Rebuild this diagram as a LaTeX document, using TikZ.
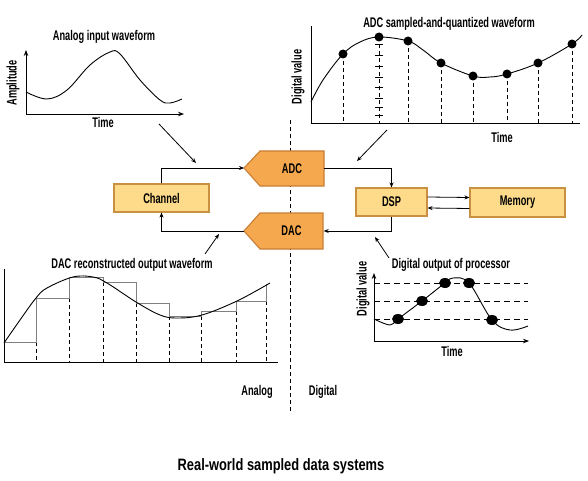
\documentclass[tikz,border=0pt]{standalone}
\usepackage{fontspec}
\setmainfont{Liberation Sans}[FakeStretch=0.66]
\newfontfamily\capfont{Liberation Sans}[FakeStretch=0.78]
\usetikzlibrary{arrows.meta}
\definecolor{boxfill}{HTML}{FDDB8A}
\definecolor{boxdraw}{HTML}{C89040}
\definecolor{convfill}{HTML}{F6A84E}
\definecolor{convdraw}{HTML}{C87E36}
\definecolor{stair}{HTML}{808080}
\begin{document}
\begin{tikzpicture}[x=1pt,y=-1pt,
  lbl/.style={font=\fontsize{14}{16}\selectfont\bfseries, inner sep=0pt},
  box/.style={draw=boxdraw, fill=boxfill, line width=1.1pt, minimum width=95pt, minimum height=28pt, inner sep=0pt, font=\fontsize{14}{16}\selectfont\bfseries},
  conv/.style={draw=convdraw, fill=convfill, line width=1.1pt},
  convtext/.style={inner sep=0pt, minimum width=64pt, minimum height=35pt, font=\fontsize{14}{16}\selectfont\bfseries},
  wire/.style={line width=0.8pt, -{Stealth[length=5pt,width=4pt]}},
  axis/.style={line width=0.9pt},
  axarr/.style={line width=0.9pt, {Stealth[length=6pt,width=4.5pt]}-{Stealth[length=6pt,width=4.5pt]}},
  dsh/.style={dash pattern=on 4pt off 3pt, line width=0.8pt},
  curve/.style={line width=0.9pt},
  dot/.style={circle, fill, inner sep=0pt, minimum size=9pt},
  bigdot/.style={ellipse, fill, inner sep=0pt, minimum width=12pt, minimum height=10pt}
]
\useasboundingbox (0,0) rectangle (588,481);
\fill[white] (0,0) rectangle (588,481);

% divider
\draw[dsh] (290,120) -- (290,412);

% ---------- analog input plot
\draw[axarr] (26,50) -- (26,114) -- (184,114);
\draw[curve] plot[smooth, tension=0.6] coordinates {(26,92) (47,99) (67,90) (90,65) (110,52) (120,54) (140,80) (160,100) (170,103) (182,99)};
\node[lbl] (t1) at (104,37) {Analog input waveform};
\node[lbl, rotate=90] (y1) at (13,83) {Amplitude};
\node[lbl] (x1) at (103,122) {Time};

% ---------- ADC plot
\draw[axis] (311,26) -- (311,123) -- (580,123);
\foreach \x/\y in {343/54,379/37,408/41,441/63,473/76,507/74,538/63,572/44}
  \draw[dsh] (\x,\y) -- (\x,123);
\foreach \y in {44,55,66,77,87,98,107,115}
  \draw[line width=0.8pt] (375,\y) -- (383,\y);
\draw[curve] plot[smooth, tension=0.6] coordinates {(311,102) (323,80) (343,54) (360,42) (379,37) (408,41) (423,50) (441,63) (473,76) (490,77) (507,74) (538,63) (572,44) (582,35)};
\foreach \x/\y in {343/54,379/37,408/41,441/63,473/76,507/74,538/63,572/44}
  \node[dot] at (\x,\y) {};
\node[lbl] (t2) at (449,24) {ADC sampled-and-quantized waveform};
\node[lbl, rotate=90] (y2) at (298,77) {Digital value};
\node[lbl] (x2) at (502,137) {Time};

% ---------- DAC plot
\draw[axis] (4,269) -- (4,362) -- (278,362);
\foreach \x/\y in {36/342,69/298,103/282,136/303,169/316,201/316,236/311,266/301}
  \draw[dsh] (\x,\y) -- (\x,362);
\draw[stair, line width=1pt] (4,342) -- (36,342) -- (36,298) -- (69,298) -- (69,277) -- (103,277) -- (103,282) -- (136,282) -- (136,303) -- (169,303) -- (169,316) -- (201,316) -- (201,311) -- (236,311) -- (236,301) -- (266,301) -- (266,284);
\draw[curve] plot[smooth, tension=0.6] coordinates {(4,343) (20,320) (36,298) (47,288) (73,277) (93,277) (107,283) (136,302) (160,315) (177,318) (202,315) (237,301) (270,283)};
\node[lbl] (t3) at (132,265) {DAC reconstructed output waveform};

% ---------- digital output plot
\foreach \y in {283,301,319}
  \draw[dsh, dash pattern=on 6pt off 4pt] (374,\y) -- (528,\y);
\draw[axarr] (374,273) -- (374,341) -- (529,341);
\draw[curve] plot[smooth, tension=0.6] coordinates {(374,319) (390,325) (398,319) (422,301) (445,283) (453,278) (469,283) (492,320) (510,330) (528,326)};
\foreach \x/\y in {398/319,422/301,445/283,469/283,492/320}
  \fill (\x,\y) ellipse [x radius=6, y radius=5];
\node[lbl] (t4) at (451,265) {Digital output of processor};
\node[lbl, rotate=90] (y4) at (363,289) {Digital value};
\node[lbl] (x4) at (452,351) {Time};

% ---------- blocks
\node[box] (channel) at (161.5,198) {Channel};
\node[box, minimum width=71pt] (dsp) at (391.5,202) {DSP};
\node[box, minimum height=29pt] (memory) at (517.5,202.5) {Memory};
\filldraw[conv] (244,168) -- (260,151) -- (324,151) -- (324,186) -- (260,186) -- cycle;
\node[convtext] (adc) at (292,168.5) {ADC};
\coordinate (adctip) at (244,168);
\filldraw[conv] (244,231) -- (260,213) -- (323,213) -- (323,249) -- (260,249) -- cycle;
\node[convtext] (dac) at (291.5,231) {DAC};
\coordinate (dactip) at (244,231);

% ---------- wires
\draw[wire] (channel.north) |- (adctip);
\draw[wire] (adc.east) -| (dsp.north);
\draw[wire] ([yshift=5pt]dsp.east) -- ([yshift=5pt]memory.west);
\draw[wire] ([yshift=-6pt]memory.west) -- ([yshift=-6pt]dsp.east);
\draw[wire] (dsp.south) |- (dac.east);
\draw[wire] (dactip) -| (channel.south);

% ---------- pointer arrows
\coordinate (p1s) at (159,124); \coordinate (p1e) at (196,163);
\coordinate (p2s) at (387,130); \coordinate (p2e) at (357,161);
\coordinate (p3s) at (205,254); \coordinate (p3e) at (219,234);
\coordinate (p4s) at (389,258); \coordinate (p4e) at (375,237);
\draw[wire] (p1s) -- (p1e);
\draw[wire] (p2s) -- (p2e);
\draw[wire] (p3s) -- (p3e);
\draw[wire] (p4s) -- (p4e);

% ---------- labels
\node[lbl] (analog) at (257,392) {Analog};
\node[lbl] (digital) at (323,392) {Digital};
\node[inner sep=0pt, font=\capfont\fontsize{16.5}{18}\selectfont\bfseries] (cap) at (281,466) {Real-world sampled data systems};
\end{tikzpicture}
\end{document}
